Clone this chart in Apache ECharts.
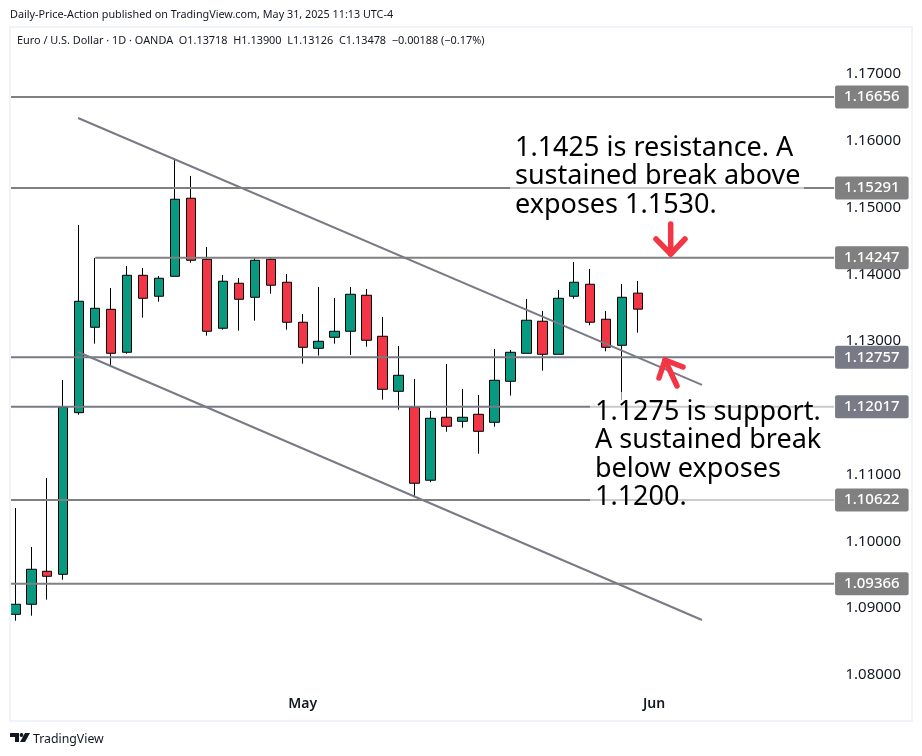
<!DOCTYPE html>
<html>
<head>
<meta charset="UTF-8">
<title>EUR/USD daily</title>
<script src="https://cdn.jsdelivr.net/npm/echarts@6/dist/echarts.min.js"></script>
<style>
    html, body { margin: 0; padding: 0; background: #fff; }
    #chart { width: 922px; height: 756px; }
</style>
</head>
<body>
<div id="chart"></div>
<script>
// candles, oldest first
const dates = [
    '2025-04-07','2025-04-08','2025-04-09','2025-04-10','2025-04-11','2025-04-14','2025-04-15','2025-04-16',
    '2025-04-17','2025-04-18','2025-04-21','2025-04-22','2025-04-23','2025-04-24','2025-04-25','2025-04-28',
    '2025-04-29','2025-04-30','2025-05-01','2025-05-02','2025-05-05','2025-05-06','2025-05-07','2025-05-08',
    '2025-05-09','2025-05-12','2025-05-13','2025-05-14','2025-05-15','2025-05-16','2025-05-19','2025-05-20',
    '2025-05-21','2025-05-22','2025-05-23','2025-05-26','2025-05-27','2025-05-28','2025-05-29','2025-05-30',
    '2025-06-02'
];
const opens = [
    1.08909,1.09059,1.09553,1.09508,1.11928,1.13207,1.13476,1.12832,1.13985,1.13671,
    1.13970,1.15139,1.14225,1.13192,1.13866,1.13656,1.14225,1.13881,1.13282,1.12892,
    1.13057,1.13147,1.13686,1.13072,1.12248,1.12009,1.10916,1.11859,1.11799,1.11904,
    1.11784,1.12398,1.12817,1.13297,1.12802,1.13671,1.13851,1.13327,1.12937,1.13718
];
const highs = [
    1.10501,1.09917,1.10950,1.12418,1.14739,1.14245,1.13795,1.14125,1.14095,1.13975,
    1.15738,1.15473,1.14409,1.13990,1.13945,1.14245,1.14245,1.14005,1.13406,1.13810,
    1.13646,1.13810,1.13780,1.13361,1.12927,1.12433,1.11953,1.12657,1.12283,1.12193,
    1.12882,1.12867,1.13631,1.13451,1.13765,1.14185,1.14080,1.13451,1.13855,1.13900
];
const lows = [
    1.08813,1.08888,1.09128,1.09427,1.11898,1.12961,1.12642,1.12811,1.13351,1.13590,
    1.13970,1.14174,1.13081,1.13171,1.13156,1.13306,1.13710,1.13171,1.12662,1.12782,
    1.12961,1.12792,1.12916,1.12123,1.11973,1.10661,1.10886,1.11643,1.11703,1.11314,
    1.11718,1.12183,1.12817,1.12557,1.12802,1.13635,1.13237,1.12847,1.12118,1.13126
];
const closes = [
    1.09059,1.09583,1.09478,1.12009,1.13596,1.13491,1.12817,1.13985,1.13641,1.13941,
    1.15124,1.14210,1.13147,1.13896,1.13626,1.14210,1.13836,1.13282,1.12907,1.12997,
    1.13147,1.13701,1.13012,1.12278,1.12488,1.10871,1.11844,1.11724,1.11859,1.11649,
    1.12413,1.12832,1.13312,1.12802,1.13641,1.13881,1.13282,1.12907,1.13656,1.13478
];

// horizontal levels drawn by the author
const levels = [1.16656, 1.15291, 1.14247, 1.12757, 1.12017, 1.10622, 1.09366];
const levelStarts = [-1, -1, 5, -1, -1, -1, -1];
const levelColors = ['#808080', '#808080', '#808080', '#787b86', '#787b86', '#808080', '#808080'];

// channel lines, [candle index, price]
const upperTrend = [[3.93, 1.16341], [43.0, 1.12343]];
const lowerTrend = [[3.93, 1.12837], [43.0, 1.08824]];

const priceTicks = [1.08, 1.09, 1.10, 1.11, 1.12, 1.13, 1.14, 1.15, 1.16, 1.17];
const monthTickDates = ['2025-05-01', '2025-06-02'];
const monthTickLabels = ['May', 'Jun'];

const headerText = 'Daily-Price-Action published on TradingView.com, May 31, 2025 11:13 UTC-4';
const legendText = 'Euro / U.S. Dollar · 1D · OANDA  O1.13718  H1.13900  L1.13126  C1.13478  −0.00188 (−0.17%)';
const resistanceNote = ['1.1425 is resistance. A', 'sustained break above', 'exposes 1.1530.'];
const supportNote = ['1.1275 is support.', 'A sustained break', 'below exposes', '1.1200.'];

const FONT = '"Noto Sans", sans-serif';
const LEVEL_END = 51.27;

const chart = echarts.init(document.getElementById('chart'));

const candleData = dates.slice(0, opens.length).map((d, i) => [i, opens[i], closes[i], lows[i], highs[i]]);

const levelSeries = levels.map((lv, i) => ({
    type: 'line',
    data: [[levelStarts[i], lv], [LEVEL_END, lv]],
    symbol: 'none',
    silent: true,
    z: 3,
    lineStyle: { color: levelColors[i], width: 2 },
    endLabel: {
        show: true,
        formatter: () => lv.toFixed(5),
        color: '#fff',
        fontFamily: FONT,
        fontSize: 15,
        fontWeight: 500,
        backgroundColor: levelColors[i],
        borderRadius: 2,
        padding: [4, 9, 4, 9],
        distance: 1
    }
}));

const trendSeries = [upperTrend, lowerTrend].map(pts => ({
    type: 'line',
    data: pts,
    symbol: 'none',
    silent: true,
    z: 3,
    lineStyle: { color: '#787b86', width: 2 }
}));

function arrow(points) {
    return {
        type: 'polyline',
        z: 120,
        shape: { points: points },
        style: { stroke: '#f23645', lineWidth: 5.5, lineCap: 'round', lineJoin: 'round', fill: null }
    };
}

function note(lines, x, y, lh) {
    return {
        type: 'text',
        z: 110,
        x: x,
        y: y,
        style: { text: lines.join('\n'), font: '27px ' + FONT, fill: '#000', lineHeight: lh }
    };
}

chart.setOption({
    animation: false,
    backgroundColor: '#fff',
    grid: { left: 10, right: 10, top: 27, bottom: 35 },
    xAxis: {
        type: 'value',
        min: -0.332,
        max: 56.15,
        splitLine: { show: false },
        axisLine: { show: false },
        axisTick: { show: false },
        axisLabel: {
            inside: true,
            margin: 10,
            customValues: monthTickDates.map(d => dates.indexOf(d)),
            formatter: v => monthTickLabels[monthTickDates.indexOf(dates[v])],
            color: '#131722',
            fontFamily: FONT,
            fontSize: 14,
            fontWeight: 600
        }
    },
    yAxis: {
        type: 'value',
        position: 'right',
        min: 1.07311,
        max: 1.17703,
        splitLine: { show: false },
        axisLine: { show: false },
        axisTick: { show: false },
        axisLabel: {
            inside: true,
            margin: 11,
            padding: [2, 0, 0, 0],
            customValues: priceTicks,
            formatter: v => v.toFixed(5),
            color: '#131722',
            fontFamily: FONT,
            fontSize: 15
        }
    },
    series: [
        {
            type: 'candlestick',
            data: candleData,
            encode: { x: 0, y: [1, 2, 3, 4] },
            barWidth: 10,
            silent: true,
            z: 2,
            itemStyle: {
                color: '#089981',
                color0: '#f23645',
                borderColor: '#000',
                borderColor0: '#000',
                borderWidth: 1
            }
        },
        ...levelSeries,
        ...trendSeries
    ],
    graphic: [
        // pane frame
        { type: 'rect', z: 90, shape: { x: 10, y: 27, width: 902, height: 694 }, style: { fill: null, stroke: '#f0f3fa', lineWidth: 2 } },
        { type: 'text', z: 110, x: 10, y: 9, style: { text: headerText, font: '10.8px ' + FONT, fill: '#131722' } },
        { type: 'text', z: 110, x: 17, y: 35, style: { text: legendText, font: '10.9px ' + FONT, fill: '#131722' } },
        // translucent note backgrounds, they wash out what runs behind the text
        { type: 'rect', z: 100, shape: { x: 510, y: 130, width: 294, height: 90 }, style: { fill: 'rgba(255,255,255,0.6)' } },
        { type: 'rect', z: 100, shape: { x: 590, y: 392, width: 244, height: 118 }, style: { fill: 'rgba(255,255,255,0.6)' } },
        note(resistanceNote, 515, 134, 28.5),
        note(supportNote, 595, 398, 28.5),
        arrow([[670.7, 224], [670.7, 254]]),
        arrow([[656, 239], [670.7, 254], [685, 239]]),
        arrow([[665, 360], [677, 386]]),
        arrow([[659, 378], [665, 360], [683, 367]]),
        // TradingView mark
        { type: 'polygon', z: 110, shape: { points: [[10, 733], [19, 733], [19, 742], [15, 742], [15, 737], [10, 737]] }, style: { fill: '#131722' } },
        { type: 'circle', z: 110, shape: { cx: 21.5, cy: 735, r: 1.9 }, style: { fill: '#131722' } },
        { type: 'polygon', z: 110, shape: { points: [[25, 733], [30, 733], [25, 742], [20, 742]] }, style: { fill: '#131722' } },
        { type: 'text', z: 110, x: 33, y: 733, style: { text: 'TradingView', font: '12.3px ' + FONT, fill: '#131722' } }
    ]
});
</script>
</body>
</html>
